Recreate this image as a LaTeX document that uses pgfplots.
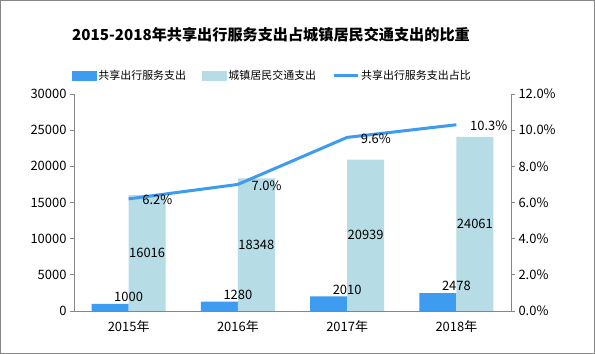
\documentclass[border=0pt]{standalone}
\usepackage{fontspec}
\setmainfont{Noto Sans CJK SC}
\usepackage{pgfplots}
\pgfplotsset{compat=1.18}
\definecolor{darkbar}{RGB}{61,155,240}
\definecolor{lightbar}{RGB}{182,220,230}
\definecolor{axgray}{RGB}{134,134,134}
\newcommand{\lbl}{\fontsize{13}{15}\selectfont}
\begin{document}
\begin{tikzpicture}
\useasboundingbox (0bp,0bp) rectangle (595bp,354bp);
\fill[white] (0bp,0bp) rectangle (595bp,354bp);
\draw[axgray, line width=1bp] (0.5bp,0.5bp) rectangle (594.5bp,353.5bp);
\begin{axis}[
  at={(74bp,43bp)}, anchor=south west,
  scale only axis, width=437bp, height=217bp,
  xmin=0, xmax=4, ymin=0, ymax=30000,
  axis x line*=bottom, axis y line*=left,
  axis line style={-, axgray, line width=0.8bp},
  ytick={0,5000,...,30000},
  xtick={0.5,1.5,2.5,3.5},
  xticklabels={2015年,2016年,2017年,2018年},
  xtick style={draw=none},
  minor xtick={0,1,2,3,4},
  minor x tick style={axgray, line width=0.8bp},
  ytick style={axgray, line width=0.8bp},
  tick align=outside,
  major tick length=4bp, minor tick length=5bp,
  scaled y ticks=false,
  /pgf/number format/assume math mode=true,
  /pgf/number format/set thousands separator={},
  ticklabel style={font=\lbl, black},
  xticklabel style={yshift=-2bp},
  legend style={at={(0.454,1.083)}, anchor=center, draw=none, fill=none,
    font=\fontsize{11}{13}\selectfont, legend columns=3,
    /tikz/every even column/.append style={column sep=14bp}},
  legend cell align=left,
]
\addlegendimage{legend image code/.code={\fill[darkbar] (0bp,-4.5bp) rectangle (24bp,4.5bp);}}
\addlegendentry{共享出行服务支出}
\addlegendimage{legend image code/.code={\fill[lightbar] (0bp,-4.5bp) rectangle (24bp,4.5bp);}}
\addlegendentry{城镇居民交通支出}
\addlegendimage{legend image code/.code={\draw[darkbar, line width=3bp] (0bp,0bp) -- (24bp,0bp);}}
\addlegendentry{共享出行服务支出占比}

\addplot[forget plot, ybar, bar width=37bp, bar shift=-18.5bp, fill=darkbar, draw=none,
  nodes near coords, nodes near coords style={font=\lbl, black, anchor=south, inner sep=2bp}]
  coordinates {(0.5,1000) (1.5,1280) (2.5,2010) (3.5,2478)};
\addplot[forget plot, ybar, bar width=37bp, bar shift=18.5bp, fill=lightbar, draw=none]
  coordinates {(0.5,16016) (1.5,18348) (2.5,20939) (3.5,24061)};
\addplot[forget plot, draw=none, mark=none, nodes near coords, point meta=explicit symbolic,
  nodes near coords style={font=\lbl, black, anchor=center, xshift=18.5bp}]
  coordinates {(0.5,8008)[16016] (1.5,9174)[18348] (2.5,10469.5)[20939] (3.5,12030.5)[24061]};
\end{axis}
\begin{axis}[
  at={(74bp,43bp)}, anchor=south west,
  scale only axis, width=437bp, height=217bp,
  xmin=0, xmax=4, ymin=0, ymax=12,
  axis x line=none, axis y line*=right,
  axis line style={-, axgray, line width=0.8bp},
  ytick={0,2,...,12},
  ytick style={axgray, line width=0.8bp},
  tick align=outside, major tick length=4bp,
  /pgf/number format/assume math mode=true,
  yticklabel={\pgfmathprintnumber[fixed,fixed zerofill,precision=1]{\tick}\%},
  ticklabel style={font=\lbl, black},
]
\addplot[darkbar, line width=3bp, mark=none,
  nodes near coords={\pgfmathprintnumber[fixed,fixed zerofill,precision=1]{\pgfplotspointmeta}\%},
  nodes near coords style={font=\lbl, black, anchor=west, xshift=9bp, yshift=-1bp}]
  coordinates {(0.5,6.2) (1.5,7.0) (2.5,9.6) (3.5,10.3)};
\end{axis}
\node[font=\bfseries\fontsize{15.2}{18}\selectfont] at (271bp,319bp) {2015-2018年共享出行服务支出占城镇居民交通支出的比重};
\end{tikzpicture}
\end{document}
